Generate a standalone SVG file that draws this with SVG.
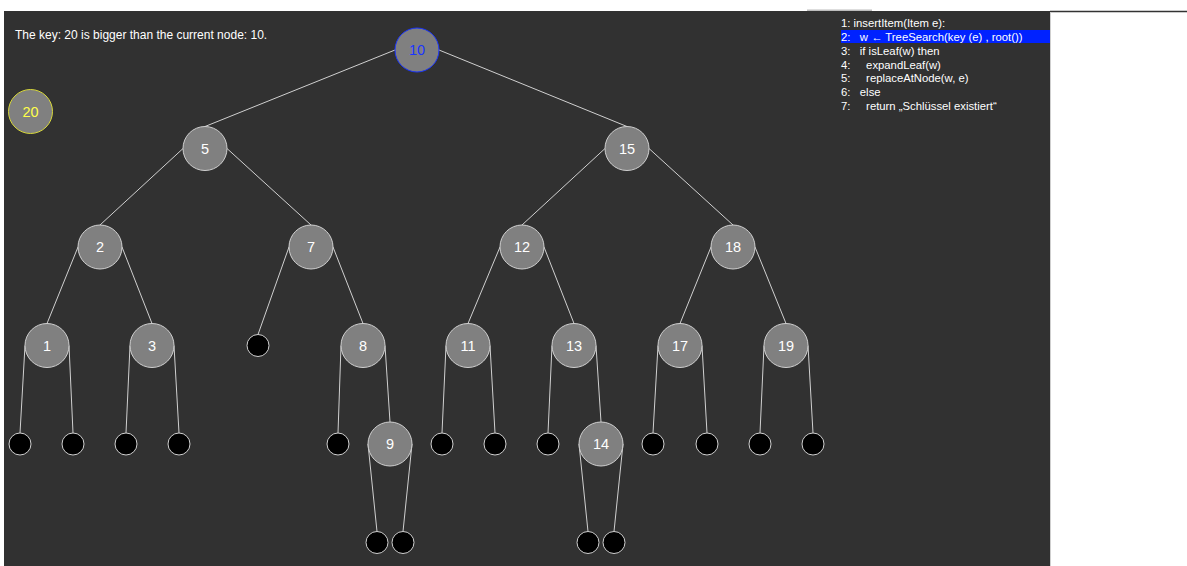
<svg xmlns="http://www.w3.org/2000/svg" width="1187" height="566" viewBox="0 0 1187 566">
<style>
.bg{fill:#313131}
.n circle{fill:#808080;stroke:#d0d0d0;stroke-width:1}
.n text{fill:#ffffff;font-family:"Liberation Sans",Arial,sans-serif;font-size:14.5px;text-anchor:middle;dominant-baseline:central}
.leaf circle{fill:#000;stroke:#d0d0d0;stroke-width:1}
.edges line{stroke:#d0d0d0;stroke-width:1}
.code{fill:#ffffff;font-family:"Liberation Sans",Arial,sans-serif;font-size:11.3px;white-space:pre}
.msg{fill:#ffffff;font-family:"Liberation Sans",Arial,sans-serif;font-size:12px}
</style>
<rect x="0" y="0" width="1187" height="566" fill="#ffffff"/>
<rect class="bg" x="4" y="11" width="1046" height="555"/>
<line x1="1050" y1="11.5" x2="1187" y2="11.5" stroke="#333" stroke-width="1.5"/>
<line x1="1050.5" y1="12" x2="1050.5" y2="566" stroke="#cfcfcf" stroke-width="1"/>
<rect x="807" y="9.5" width="65" height="1.5" fill="#bdbdbd"/>
<text class="msg" x="15" y="39">The key: 20 is bigger than the current node: 10.</text>
<g id="code">
<rect x="841" y="30" width="209" height="13" fill="#0022ff"/>
<text class="code" x="841" y="27">1: insertItem(Item e):</text>
<text class="code" x="841" y="41">2:   w ← TreeSearch(key (e) , root())</text>
<text class="code" x="841" y="55">3:   if isLeaf(w) then</text>
<text class="code" x="841" y="69">4:     expandLeaf(w)</text>
<text class="code" x="841" y="82">5:     replaceAtNode(w, e)</text>
<text class="code" x="841" y="96">6:   else</text>
<text class="code" x="841" y="110">7:     return „Schlüssel existiert“</text>
</g>
<g class="edges" id="connectors">
<line x1="395" y1="50" x2="205" y2="126.5"/>
<line x1="439" y1="50" x2="627" y2="126.5"/>
<line x1="183" y1="148.5" x2="100" y2="225"/>
<line x1="227" y1="148.5" x2="311" y2="225"/>
<line x1="605" y1="148.5" x2="522" y2="225"/>
<line x1="649" y1="148.5" x2="733" y2="225"/>
<line x1="78" y1="247" x2="47" y2="323.5"/>
<line x1="122" y1="247" x2="152" y2="323.5"/>
<line x1="289" y1="247" x2="258" y2="334.5"/>
<line x1="333" y1="247" x2="363" y2="323.5"/>
<line x1="500" y1="247" x2="468" y2="323.5"/>
<line x1="544" y1="247" x2="574" y2="323.5"/>
<line x1="711" y1="247" x2="680" y2="323.5"/>
<line x1="755" y1="247" x2="786" y2="323.5"/>
<line x1="25" y1="345.5" x2="20" y2="433"/>
<line x1="69" y1="345.5" x2="73" y2="433"/>
<line x1="130" y1="345.5" x2="126" y2="433"/>
<line x1="174" y1="345.5" x2="179" y2="433"/>
<line x1="341" y1="345.5" x2="338" y2="433"/>
<line x1="385" y1="345.5" x2="390" y2="422"/>
<line x1="446" y1="345.5" x2="442" y2="433"/>
<line x1="490" y1="345.5" x2="495" y2="433"/>
<line x1="552" y1="345.5" x2="548" y2="433"/>
<line x1="596" y1="345.5" x2="601" y2="422"/>
<line x1="658" y1="345.5" x2="653" y2="433"/>
<line x1="702" y1="345.5" x2="707" y2="433"/>
<line x1="764" y1="345.5" x2="760" y2="433"/>
<line x1="808" y1="345.5" x2="813" y2="433"/>
<line x1="368" y1="444" x2="377" y2="531.5"/>
<line x1="412" y1="444" x2="403" y2="531.5"/>
<line x1="579" y1="444" x2="588" y2="531.5"/>
<line x1="623" y1="444" x2="614" y2="531.5"/>
</g>
<g id="n10" class="n"><circle cx="417" cy="50" r="22" style="stroke:#1a35ff"/><text x="417" y="50" style="fill:#1a35ff">10</text></g>
<g id="n20" class="n"><circle cx="30.5" cy="111.5" r="22" style="stroke:#d8d83a"/><text x="30.5" y="111.5" style="fill:#ffff4a">20</text></g>
<g id="n5" class="n"><circle cx="205" cy="148.5" r="22"/><text x="205" y="148.5">5</text></g>
<g id="n15" class="n"><circle cx="627" cy="148.5" r="22"/><text x="627" y="148.5">15</text></g>
<g id="n2" class="n"><circle cx="100" cy="247" r="22"/><text x="100" y="247">2</text></g>
<g id="n7" class="n"><circle cx="311" cy="247" r="22"/><text x="311" y="247">7</text></g>
<g id="n12" class="n"><circle cx="522" cy="247" r="22"/><text x="522" y="247">12</text></g>
<g id="n18" class="n"><circle cx="733" cy="247" r="22"/><text x="733" y="247">18</text></g>
<g id="n1" class="n"><circle cx="47" cy="345.5" r="22"/><text x="47" y="345.5">1</text></g>
<g id="n3" class="n"><circle cx="152" cy="345.5" r="22"/><text x="152" y="345.5">3</text></g>
<g id="l7a" class="leaf"><circle cx="258" cy="345.5" r="11"/></g>
<g id="n8" class="n"><circle cx="363" cy="345.5" r="22"/><text x="363" y="345.5">8</text></g>
<g id="n11" class="n"><circle cx="468" cy="345.5" r="22"/><text x="468" y="345.5">11</text></g>
<g id="n13" class="n"><circle cx="574" cy="345.5" r="22"/><text x="574" y="345.5">13</text></g>
<g id="n17" class="n"><circle cx="680" cy="345.5" r="22"/><text x="680" y="345.5">17</text></g>
<g id="n19" class="n"><circle cx="786" cy="345.5" r="22"/><text x="786" y="345.5">19</text></g>
<g id="l1a" class="leaf"><circle cx="20" cy="444" r="11"/></g>
<g id="l1b" class="leaf"><circle cx="73" cy="444" r="11"/></g>
<g id="l3a" class="leaf"><circle cx="126" cy="444" r="11"/></g>
<g id="l3b" class="leaf"><circle cx="179" cy="444" r="11"/></g>
<g id="l8a" class="leaf"><circle cx="338" cy="444" r="11"/></g>
<g id="n9" class="n"><circle cx="390" cy="444" r="22"/><text x="390" y="444">9</text></g>
<g id="l11a" class="leaf"><circle cx="442" cy="444" r="11"/></g>
<g id="l11b" class="leaf"><circle cx="495" cy="444" r="11"/></g>
<g id="l13a" class="leaf"><circle cx="548" cy="444" r="11"/></g>
<g id="n14" class="n"><circle cx="601" cy="444" r="22"/><text x="601" y="444">14</text></g>
<g id="l17a" class="leaf"><circle cx="653" cy="444" r="11"/></g>
<g id="l17b" class="leaf"><circle cx="707" cy="444" r="11"/></g>
<g id="l19a" class="leaf"><circle cx="760" cy="444" r="11"/></g>
<g id="l19b" class="leaf"><circle cx="813" cy="444" r="11"/></g>
<g id="l9a" class="leaf"><circle cx="377" cy="542.5" r="11"/></g>
<g id="l9b" class="leaf"><circle cx="403" cy="542.5" r="11"/></g>
<g id="l14a" class="leaf"><circle cx="588" cy="542.5" r="11"/></g>
<g id="l14b" class="leaf"><circle cx="614" cy="542.5" r="11"/></g>
</svg>
